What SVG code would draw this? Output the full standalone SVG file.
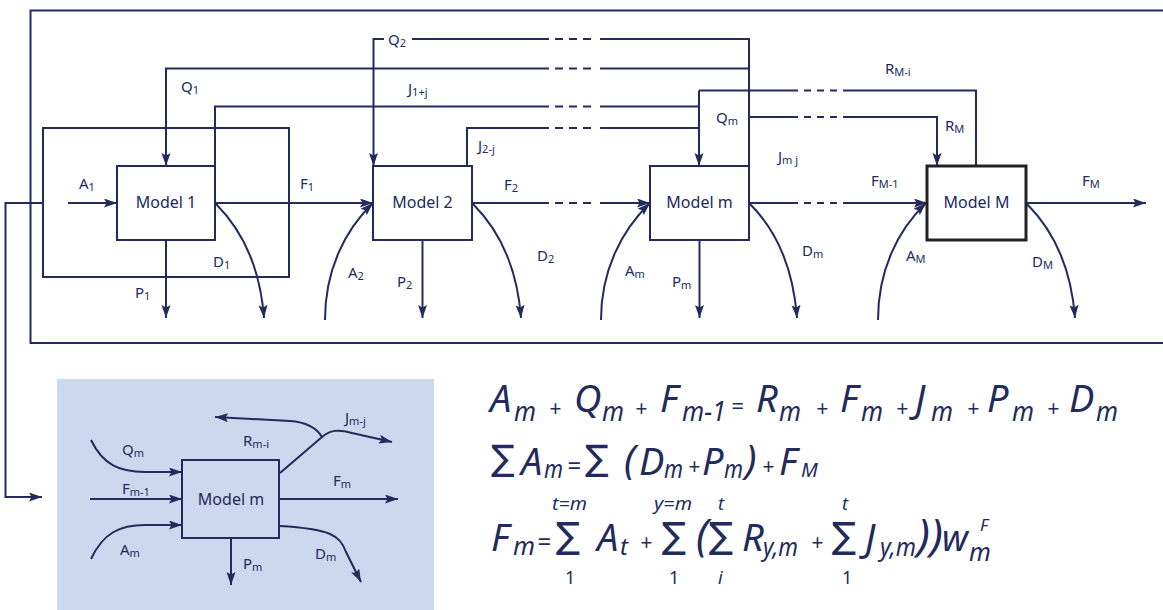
<svg xmlns="http://www.w3.org/2000/svg" width="1163" height="610" viewBox="0 0 1163 610">
<defs>
<marker id="ah" markerUnits="userSpaceOnUse" viewBox="0 0 14 10" markerWidth="14" markerHeight="10" refX="13" refY="4.5" orient="auto">
<path d="M0,0 L13,4.5 L0,9 L2.5,4.5 z" fill="#232a5c"/>
</marker>
</defs>
<style>
.ln{fill:none;stroke:#232a5c;stroke-width:2}
.ar{marker-end:url(#ah)}
.box{fill:#fff;stroke:#232a5c;stroke-width:2}
.lbl{font-family:"Noto Sans",sans-serif;font-size:15px;fill:#232a5c}
.sb{font-size:11px}
.mt{font-family:"Noto Sans",sans-serif;font-size:16px;fill:#232a5c;text-anchor:middle}
.eq{font-family:"Noto Sans",sans-serif;font-style:italic;fill:#232a5c}
.sig{font-family:"DejaVu Sans",sans-serif;font-style:normal;fill:#232a5c}
.up{font-style:normal}
</style>
<rect width="1163" height="610" fill="#fff"/>

<g id="frame">
<path class="ln" d="M1163 10.5 H30.5 V343 H1163"/>
<rect class="ln" x="43" y="128" width="246" height="149"/>
</g>

<g id="connectors">
<path class="ln ar" d="M43 203 H5.5 V497 H42"/>
<path class="ln ar" d="M68 203 H117"/>
<path class="ln ar" d="M215 203 H373"/>
<path class="ln" d="M472 203 H549"/>
<path class="ln ar" d="M600 203 H650"/>
<path class="ln" d="M749 203 H798"/>
<path class="ln ar" d="M843 203 H927"/>
<path class="ln ar" d="M1026 203 H1146"/>
<path class="ln" d="M749 68.5 H600"/>
<path class="ln ar" d="M549 68.5 H166 V166"/>
<path class="ln" d="M749 166 V39 H600"/>
<path class="ln" d="M549 39 H412"/>
<path class="ln ar" d="M384 39 H373.5 V166"/>
<path class="ln" d="M215 166 V106.5 H549"/>
<path class="ln" d="M600 106.5 H699"/>
<path class="ln" d="M467 166 V128 H549"/>
<path class="ln" d="M600 128 H699"/>
<path class="ln ar" d="M699 90.5 V166"/>
<path class="ln" d="M699 90.5 H798"/>
<path class="ln" d="M843 90.5 H976 V166"/>
<path class="ln" d="M749 117 H798"/>
<path class="ln ar" d="M843 117 H937 V166"/>
<path class="ln" d="M555 39 H563 M569 39 H577 M583 39 H591 M555 68.5 H563 M569 68.5 H577 M583 68.5 H591 M555 106.5 H563 M569 106.5 H577 M583 106.5 H591 M555 128 H563 M569 128 H577 M583 128 H591 M555 203 H563 M569 203 H577 M583 203 H591"/>
<path class="ln" d="M804 90.5 H811 M817 90.5 H824 M830 90.5 H837 M804 117 H811 M817 117 H824 M830 117 H837 M804 203 H811 M817 203 H824 M830 203 H837"/>
<path class="ln ar" d="M166 240 V318"/>
<path class="ln ar" d="M422.5 240 V318"/>
<path class="ln ar" d="M699.5 240 V318"/>
<path class="ln ar" d="M216 204 C240 228 260 265 264 318"/>
<path class="ln ar" d="M473 204 C497 228 517 265 521 318"/>
<path class="ln ar" d="M750 204 C774 228 793 265 797 318"/>
<path class="ln ar" d="M1027 204 C1051 228 1071 265 1075 318"/>
<path class="ln ar" d="M325 320 C325 270 345 230 373 203"/>
<path class="ln ar" d="M601 320 C601 270 622 230 650 203"/>
<path class="ln ar" d="M878 320 C878 270 898 230 926 203"/>
</g>

<g id="labels">
<text class="lbl" x="79" y="189">A<tspan class="sb" dy="2">1</tspan></text>
<text class="lbl" x="181" y="92">Q<tspan class="sb" dy="2">1</tspan></text>
<text class="lbl" x="388" y="45">Q<tspan class="sb" dy="2">2</tspan></text>
<text class="lbl" x="408" y="94">J<tspan class="sb" dy="2">1+j</tspan></text>
<text class="lbl" x="478" y="151">J<tspan class="sb" dy="2">2-j</tspan></text>
<text class="lbl" x="300" y="189">F<tspan class="sb" dy="2">1</tspan></text>
<text class="lbl" x="504" y="190">F<tspan class="sb" dy="2">2</tspan></text>
<text class="lbl" x="213" y="267">D<tspan class="sb" dy="2">1</tspan></text>
<text class="lbl" x="135" y="298">P<tspan class="sb" dy="2">1</tspan></text>
<text class="lbl" x="348" y="278">A<tspan class="sb" dy="2">2</tspan></text>
<text class="lbl" x="397" y="287">P<tspan class="sb" dy="2">2</tspan></text>
<text class="lbl" x="537" y="261">D<tspan class="sb" dy="2">2</tspan></text>
<text class="lbl" x="625" y="276">A<tspan class="sb" dy="2">m</tspan></text>
<text class="lbl" x="672" y="287">P<tspan class="sb" dy="2">m</tspan></text>
<text class="lbl" x="716" y="123">Q<tspan class="sb" dy="2">m</tspan></text>
<text class="lbl" x="778" y="162">J<tspan class="sb" dy="2">m j</tspan></text>
<text class="lbl" x="885" y="74">R<tspan class="sb" dy="2">M-i</tspan></text>
<text class="lbl" x="945" y="131">R<tspan class="sb" dy="2">M</tspan></text>
<text class="lbl" x="871" y="186">F<tspan class="sb" dy="2">M-1</tspan></text>
<text class="lbl" x="1082" y="186">F<tspan class="sb" dy="2">M</tspan></text>
<text class="lbl" x="802" y="256">D<tspan class="sb" dy="2">m</tspan></text>
<text class="lbl" x="906" y="261">A<tspan class="sb" dy="2">M</tspan></text>
<text class="lbl" x="1032" y="267">D<tspan class="sb" dy="2">M</tspan></text>
</g>

<g id="model-1"><rect class="box" x="117" y="166" width="98" height="74"/><text class="mt" x="166" y="208">Model 1</text></g>
<g id="model-2"><rect class="box" x="373" y="166" width="99" height="74"/><text class="mt" x="422.5" y="208">Model 2</text></g>
<g id="model-m"><rect class="box" x="650" y="166" width="99" height="74"/><text class="mt" x="699.5" y="208">Model m</text></g>
<g id="model-M"><rect x="927" y="166" width="99" height="74" fill="#fff" stroke="#222" stroke-width="3"/><text class="mt" x="976.5" y="208">Model M</text></g>

<g id="inset">
<rect x="57" y="379" width="377" height="231" fill="#ccd8ee"/>
<rect x="182" y="460" width="97" height="78" fill="none" stroke="#232a5c" stroke-width="2"/>
<text class="mt" x="231" y="505">Model m</text>
<path class="ln ar" d="M91 440 C103 465 120 472 145 472 L182 472"/>
<path class="ln ar" d="M90 499 H182"/>
<path class="ln ar" d="M91 559 C103 533 120 525 145 525 L182 525"/>
<path class="ln ar" d="M279 499 H398"/>
<path class="ln ar" d="M231 538 V585"/>
<path class="ln ar" d="M280 526 C330 529 340 535 346 552 L361 582"/>
<path class="ln ar" d="M280 473 L322 437 C330 430 338 429 352 433 L392 442"/>
<path class="ln ar" d="M322 437 C316 427 305 422 290 421 L215 417"/>
<text class="lbl" x="122" y="455">Q<tspan class="sb" dy="2">m</tspan></text>
<text class="lbl" x="122" y="494">F<tspan class="sb" dy="2">m-1</tspan></text>
<text class="lbl" x="120" y="555">A<tspan class="sb" dy="2">m</tspan></text>
<text class="lbl" x="243" y="446">R<tspan class="sb" dy="2">m-i</tspan></text>
<text class="lbl" x="345" y="423">J<tspan class="sb" dy="2">m-j</tspan></text>
<text class="lbl" x="333" y="486">F<tspan class="sb" dy="2">m</tspan></text>
<text class="lbl" x="243" y="569">P<tspan class="sb" dy="2">m</tspan></text>
<text class="lbl" x="315" y="559">D<tspan class="sb" dy="2">m</tspan></text>
</g>

<g id="equations" class="eq">
<text x="490" y="412" font-size="38">A</text>
<text x="514" y="421" font-size="28" textLength="22" lengthAdjust="spacingAndGlyphs">m</text>
<text x="549" y="416" font-size="21">+</text>
<text x="574" y="412" font-size="38">Q</text>
<text x="602" y="421" font-size="28" textLength="22" lengthAdjust="spacingAndGlyphs">m</text>
<text x="635" y="416" font-size="21">+</text>
<text x="660" y="412" font-size="38">F</text>
<text x="682" y="421" font-size="28" textLength="44" lengthAdjust="spacingAndGlyphs">m-1</text>
<text x="731" y="414" font-size="22">=</text>
<text x="756" y="412" font-size="38">R</text>
<text x="779" y="421" font-size="28" textLength="22" lengthAdjust="spacingAndGlyphs">m</text>
<text x="816" y="416" font-size="21">+</text>
<text x="840" y="412" font-size="38">F</text>
<text x="861" y="421" font-size="28" textLength="22" lengthAdjust="spacingAndGlyphs">m</text>
<text x="896" y="416" font-size="21">+</text>
<text x="915" y="412" font-size="38">J</text>
<text x="931" y="421" font-size="28" textLength="22" lengthAdjust="spacingAndGlyphs">m</text>
<text x="967" y="416" font-size="21">+</text>
<text x="987" y="412" font-size="38">P</text>
<text x="1012" y="421" font-size="28" textLength="22" lengthAdjust="spacingAndGlyphs">m</text>
<text x="1047" y="416" font-size="21">+</text>
<text x="1069" y="412" font-size="38">D</text>
<text x="1096" y="421" font-size="28" textLength="22" lengthAdjust="spacingAndGlyphs">m</text>

<text class="sig" x="491" y="470" font-size="35">∑</text>
<text x="521" y="475" font-size="38">A</text>
<text x="544" y="478" font-size="26" textLength="19" lengthAdjust="spacingAndGlyphs">m</text>
<text x="567" y="474" font-size="24">=</text>
<text class="sig" x="585" y="470" font-size="35">∑</text>
<text x="624" y="474" font-size="40">(</text>
<text x="639" y="475" font-size="38">D</text>
<text x="664" y="478" font-size="26" textLength="19" lengthAdjust="spacingAndGlyphs">m</text>
<text x="688" y="474" font-size="21">+</text>
<text x="702" y="475" font-size="38">P</text>
<text x="724" y="478" font-size="26" textLength="19" lengthAdjust="spacingAndGlyphs">m</text>
<text x="745" y="474" font-size="40">)</text>
<text x="762" y="474" font-size="21">+</text>
<text x="779" y="475" font-size="38">F</text>
<text x="801" y="477" font-size="20">M</text>

<text x="491" y="551" font-size="38">F</text>
<text x="513" y="555" font-size="26" textLength="22" lengthAdjust="spacingAndGlyphs">m</text>
<text x="537" y="550" font-size="24">=</text>
<text class="sig" x="556" y="548" font-size="36">∑</text>
<text x="552" y="510" font-size="18" textLength="35" lengthAdjust="spacingAndGlyphs">t=m</text>
<text class="up" x="565" y="584" font-size="18">1</text>
<text x="597" y="551" font-size="38">A</text>
<text x="620" y="555" font-size="24">t</text>
<text x="640" y="550" font-size="21">+</text>
<text class="sig" x="662" y="548" font-size="36">∑</text>
<text x="654" y="510" font-size="18" textLength="38" lengthAdjust="spacingAndGlyphs">y=m</text>
<text class="up" x="669" y="584" font-size="18">1</text>
<text x="696" y="550" font-size="43">(</text>
<text class="sig" x="709" y="548" font-size="36">∑</text>
<text x="718" y="510" font-size="18">t</text>
<text x="718" y="584" font-size="18">i</text>
<text x="742" y="551" font-size="38">R</text>
<text x="763" y="556" font-size="26" textLength="35" lengthAdjust="spacingAndGlyphs">y,m</text>
<text x="811" y="550" font-size="21">+</text>
<text class="sig" x="832" y="548" font-size="36">∑</text>
<text x="842" y="510" font-size="18">t</text>
<text class="up" x="842" y="584" font-size="18">1</text>
<text x="865" y="551" font-size="38">J</text>
<text x="880" y="556" font-size="26" textLength="36" lengthAdjust="spacingAndGlyphs">y,m</text>
<text x="917" y="550" font-size="43" textLength="26" lengthAdjust="spacingAndGlyphs">))</text>
<text x="942" y="551" font-size="36">w</text>
<text x="980" y="531" font-size="17">F</text>
<text x="969" y="561" font-size="25">m</text>
</g>
</svg>
